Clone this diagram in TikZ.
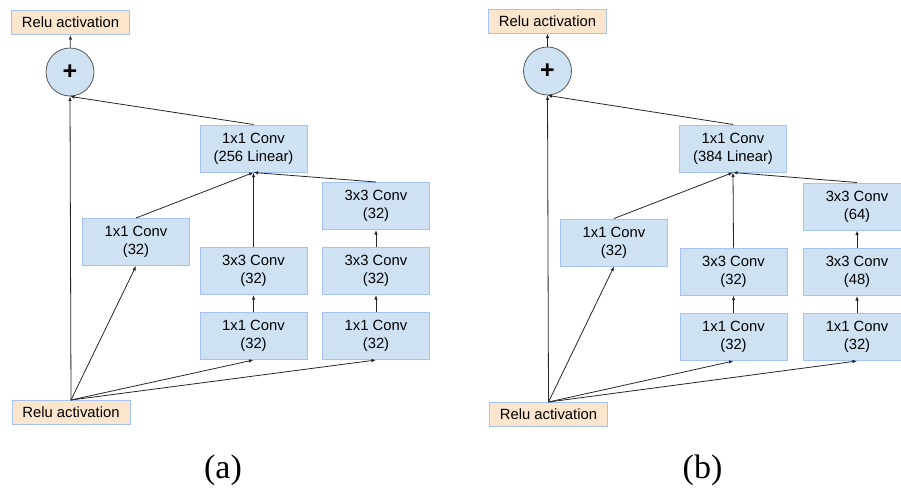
\documentclass[tikz,border=0pt]{standalone}
\usepackage{fontspec}
\setmainfont{Liberation Serif}
\setsansfont{Liberation Sans}
\usetikzlibrary{arrows.meta}
\definecolor{convblue}{RGB}{207, 226, 243}
\definecolor{convedge}{RGB}{164, 194, 244}
\definecolor{reluorange}{RGB}{252, 229, 205}
\definecolor{sumedge}{RGB}{85, 85, 85}

\begin{document}
\begin{tikzpicture}[x=1pt, y=-1pt,
  conv/.style={draw=convedge, fill=convblue, line width=1pt, minimum width=107pt, minimum height=47pt,
    inner sep=0pt, align=center, font=\sffamily\fontsize{14.8}{17.8}\selectfont},
  relu/.style={draw=convedge, fill=reluorange, line width=1pt, minimum width=118pt, minimum height=24pt,
    inner sep=0pt, font=\sffamily\fontsize{14.8}{17.8}\selectfont},
  sumnode/.style={circle, draw=sumedge, fill=convblue, line width=0.8pt, minimum size=48pt, inner sep=0pt,
    font=\sffamily\bfseries\fontsize{25}{25}\selectfont},
  link/.style={-{Latex[length=4.5pt, width=3.5pt]}, line width=0.8pt, black!85},
  caption/.style={font=\fontsize{34}{34}\selectfont}]
  \useasboundingbox (0,0) rectangle (901,490);

  % ===== (a) =====
  \node[relu] (reluoutA) at (70.5, 22.5) {Relu activation};
  \node[sumnode] (sumA) at (70, 72) {+};
  \node[conv] (linA) at (253.5, 148.5) {1x1 Conv\\(256 Linear)};
  \node[conv] (leftA) at (136, 242) {1x1 Conv\\(32)};
  \node[conv] (midtopA) at (253.5, 271) {3x3 Conv\\(32)};
  \node[conv] (midbotA) at (253.5, 336) {1x1 Conv\\(32)};
  \node[conv] (righttopA) at (376, 206) {3x3 Conv\\(32)};
  \node[conv] (rightmidA) at (376, 271) {3x3 Conv\\(32)};
  \node[conv] (rightbotA) at (376, 336) {1x1 Conv\\(32)};
  \node[relu] (reluinA) at (71, 412.5) {Relu activation};
  \node[caption] (capA) at (223, 470) {(a)};

  % input branches
  \draw[link] (reluinA.north) -- (sumA.south);
  \draw[link] (reluinA.north) -- (leftA.south);
  \draw[link] (reluinA.north) -- (midbotA.south);
  \draw[link] (reluinA.north) -- (rightbotA.south);
  \draw[link] (midbotA) -- (midtopA);
  \draw[link] (rightbotA) -- (rightmidA);
  \draw[link] (rightmidA) -- (righttopA);

  % merge into linear conv
  \draw[link] (leftA.north) -- (linA.south);
  \draw[link] (midtopA.north) -- (linA.south);
  \draw[link] (righttopA.north) -- (linA.south);
  \draw[link] (linA.north) -- (sumA.south);
  \draw[link] (sumA) -- (reluoutA);

  % ===== (b) =====
  \begin{scope}[xshift=477.5pt]
    \node[relu] (reluoutB) at (70, 21) {Relu activation};
    \node[sumnode] (sumB) at (70, 71) {+};
    \node[conv] (linB) at (255.5, 148.5) {1x1 Conv\\(384 Linear)};
    \node[conv] (leftB) at (136.5, 242.5) {1x1 Conv\\(32)};
    \node[conv] (midtopB) at (256, 271.5) {3x3 Conv\\(32)};
    \node[conv] (midbotB) at (256, 337) {1x1 Conv\\(32)};
    \node[conv] (righttopB) at (379.5, 206.5) {3x3 Conv\\(64)};
    \node[conv] (rightmidB) at (379.5, 272) {3x3 Conv\\(48)};
    \node[conv] (rightbotB) at (379.5, 337) {1x1 Conv\\(32)};
    \node[relu] (reluinB) at (71, 414.5) {Relu activation};
    \node[caption] (capB) at (225, 470) {(b)};

    % input branches
    \draw[link] (reluinB.north) -- (sumB.south);
    \draw[link] (reluinB.north) -- (leftB.south);
    \draw[link] (reluinB.north) -- (midbotB.south);
    \draw[link] (reluinB.north) -- (rightbotB.south);
    \draw[link] (midbotB) -- (midtopB);
    \draw[link] (rightbotB) -- (rightmidB);
    \draw[link] (rightmidB) -- (righttopB);

    % merge into linear conv
    \draw[link] (leftB.north) -- (linB.south);
    \draw[link] (midtopB.north) -- (linB.south);
    \draw[link] (righttopB.north) -- (linB.south);
    \draw[link] (linB.north) -- (sumB.south);
    \draw[link] (sumB) -- (reluoutB);
  \end{scope}
\end{tikzpicture}
\end{document}
